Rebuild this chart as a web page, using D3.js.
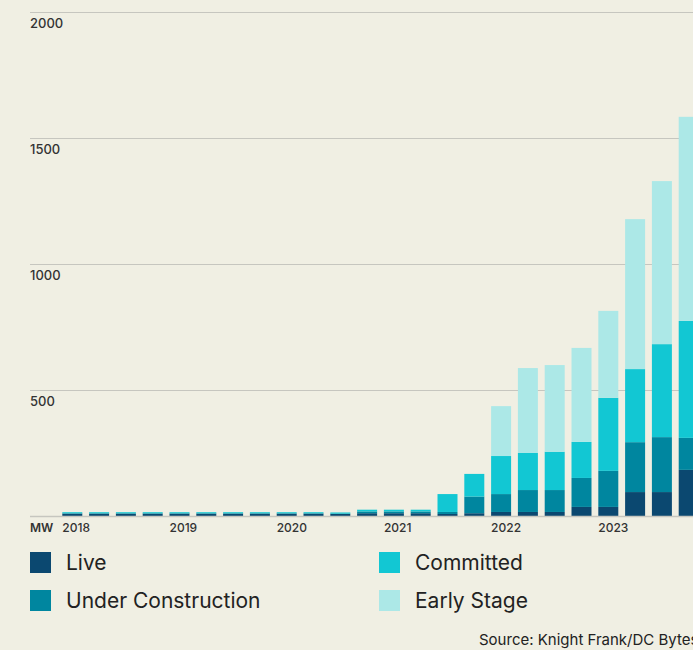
<!DOCTYPE html>
<html>
<head>
<meta charset="utf-8">
<script src="https://cdn.jsdelivr.net/npm/d3@7"></script>
<style>
  html, body { margin: 0; padding: 0; background: #f0efe3; }
  svg { display: block; font-family: Inter, "Noto Sans", sans-serif; }
</style>
</head>
<body>
<svg id="chart" width="693" height="650"></svg>
<script>
// Data centre pipeline by quarter (MW)
const quarters = [
  "2018 Q1","2018 Q2","2018 Q3","2018 Q4",
  "2019 Q1","2019 Q2","2019 Q3","2019 Q4",
  "2020 Q1","2020 Q2","2020 Q3","2020 Q4",
  "2021 Q1","2021 Q2","2021 Q3","2021 Q4",
  "2022 Q1","2022 Q2","2022 Q3","2022 Q4",
  "2023 Q1","2023 Q2","2023 Q3","2023 Q4"
];
const live              = [10,10,10,10, 10,10,10,10, 10,10, 9,11, 11,11, 8,11, 16,16,16,36, 36,95,95,183];
const underConstruction = [ 0, 0, 0, 0,  0, 0, 0, 0,  0, 0, 0, 7,  7, 7, 8,66, 71,87,87,115, 143,198,218,127];
const committed         = [ 5, 5, 5, 5,  5, 5, 5, 5,  5, 5, 5, 7,  7, 7,71,90, 151,147,152,143, 290,290,369,464];
const earlyStage        = [ 0, 0, 0, 0,  0, 0, 0, 0,  0, 0, 0, 0,  0, 0, 0, 0, 198,337,344,373, 345,595,647,810];

const seriesNames  = ["Live", "Under Construction", "Committed", "Early Stage"];
const seriesColors = ["#0b4870", "#00869f", "#12c7d3", "#ace8e7"];
const yTicks = [500, 1000, 1500, 2000];
const yearLabels = ["2018", "2019", "2020", "2021", "2022", "2023"];

const rows = quarters.map((q, i) => ({
  quarter: q,
  "Live": live[i],
  "Under Construction": underConstruction[i],
  "Committed": committed[i],
  "Early Stage": earlyStage[i]
}));

const svg = d3.select("#chart");
const axisLeft = 30, plotRight = 693;

const x = d3.scaleBand()
  .domain(quarters)
  .range([62.3, 698.7])
  .paddingInner(0.254)
  .paddingOuter(0)
  .align(0);

const y = d3.scaleLinear().domain([0, 2000]).range([516, 12]);

// Gridlines and value labels
const grid = svg.append("g");
grid.selectAll("line").data(yTicks).join("line")
  .attr("x1", axisLeft).attr("x2", plotRight)
  .attr("y1", d => Math.round(y(d)) + 0.5).attr("y2", d => Math.round(y(d)) + 0.5)
  .attr("stroke", "#c6c6bf").attr("stroke-width", 1.2);
grid.selectAll("text").data(yTicks).join("text")
  .attr("x", axisLeft).attr("y", d => y(d) + 15.5)
  .attr("font-size", 13).attr("fill", "#333").attr("font-weight", 500)
  .text(d => d);

// Stacked bars
const stack = d3.stack().keys(seriesNames)(rows);
const color = d3.scaleOrdinal().domain(seriesNames).range(seriesColors);

svg.append("g").selectAll("g").data(stack).join("g")
  .attr("fill", d => color(d.key))
  .selectAll("rect").data(d => d).join("rect")
  .attr("x", d => x(d.data.quarter))
  .attr("width", x.bandwidth())
  .attr("y", d => y(d[1]))
  .attr("height", d => Math.max(0, y(d[0]) - y(d[1])));

// Baseline
svg.append("line")
  .attr("x1", axisLeft).attr("x2", plotRight)
  .attr("y1", y(0) + 0.5).attr("y2", y(0) + 0.5)
  .attr("stroke", "#c6c6bf").attr("stroke-width", 1.5);

// Unit label and year labels
svg.append("text").attr("x", axisLeft).attr("y", 531.5)
  .attr("font-size", 12).attr("font-weight", 600).attr("fill", "#333").text("MW");
svg.append("g").selectAll("text").data(yearLabels).join("text")
  .attr("x", d => x(d + " Q1"))
  .attr("y", 531.5)
  .attr("font-size", 12).attr("font-weight", 500).attr("fill", "#333")
  .text(d => d);

// Legend
const legend = svg.append("g");
const legendPos = [[30, 552], [30, 590], [379, 552], [379, 590]];
seriesNames.forEach((name, i) => {
  const [lx, ly] = legendPos[i];
  legend.append("rect").attr("x", lx).attr("y", ly).attr("width", 21).attr("height", 21)
    .attr("fill", seriesColors[i]);
  legend.append("text").attr("x", lx + 36).attr("y", ly + 18)
    .attr("font-size", 21).attr("fill", "#222").text(name);
});

// Source note
svg.append("text").attr("x", 479).attr("y", 645)
  .attr("font-size", 15).attr("fill", "#222")
  .text("Source: Knight Frank/DC Bytes");
</script>
</body>
</html>
